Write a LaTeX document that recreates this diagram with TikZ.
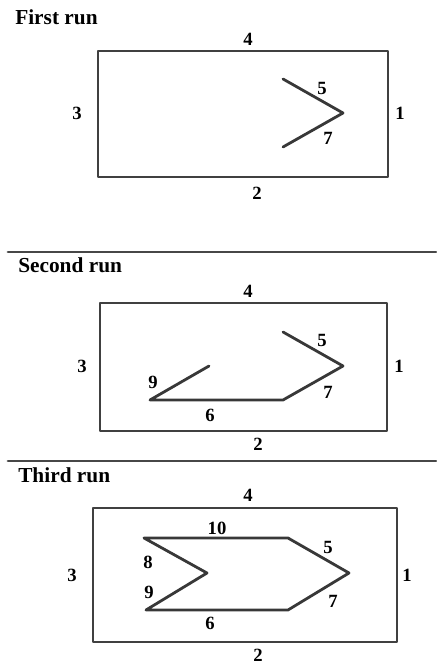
\documentclass[tikz,border=0pt]{standalone}
\usepackage{fontspec}
\setmainfont{Liberation Serif}
\usetikzlibrary{positioning}

\begin{document}
\begin{tikzpicture}[
  x=0.75pt,y=-0.75pt,
  line cap=round,
  line join=round,
  runline/.style={black!78,line width=2.1pt},
  wallline/.style={black!75,line width=2.2pt},
  sepline/.style={black!72,line width=2.1pt},
  runtitle/.style={font=\bfseries\fontsize{16}{18}\selectfont,anchor=west,inner sep=0pt},
  passno/.style={font=\bfseries\fontsize{14}{16}\selectfont,inner sep=0pt}
]
\path[use as bounding box] (0,0) rectangle (436,666);

% ---- first run ----
\node[runtitle] (titleA) at (15,17) {First run};
\draw[wallline] (98,51) rectangle (388,177);
\node[passno] (aR) at (400,113) {1};
\node[passno] (aB) at (257,193) {2};
\node[passno] (aL) at (77,113) {3};
\node[passno] (aT) at (248,39) {4};

\coordinate (a5) at (283,79);
\coordinate (aTip) at (343,113);
\coordinate (a7) at (283,147);
\draw[runline] (a5) -- (aTip) -- (a7);
\node[passno] (aFive) at (322,88) {5};
\node[passno] (aSeven) at (328,138) {7};

% ---- second run ----
\draw[sepline] (8,252) -- (436,252);
\node[runtitle] (titleB) at (18,265) {Second run};
\draw[wallline] (100,303) rectangle (387,431);
\node[passno] (bR) at (399,366) {1};
\node[passno] (bB) at (258,444) {2};
\node[passno] (bL) at (82,366) {3};
\node[passno] (bT) at (248,291) {4};

\coordinate (b5) at (283,332);
\coordinate (bTip) at (343,366);
\coordinate (b7) at (283,400);
\coordinate (b6) at (150,400);
\coordinate (b9) at (209,366);
\draw[runline] (b5) -- (bTip) -- (b7) -- (b6) -- (b9);
\node[passno] (bFive) at (322,340) {5};
\node[passno] (bSeven) at (328,392) {7};
\node[passno] (bSix) at (210,415) {6};
\node[passno] (bNine) at (153,382) {9};

% ---- third run ----
\draw[sepline] (8,461) -- (436,461);
\node[runtitle] (titleC) at (18,475) {Third run};
\draw[wallline] (93,508) rectangle (397,642);
\node[passno] (cR) at (407,575) {1};
\node[passno] (cB) at (258,655) {2};
\node[passno] (cL) at (72,575) {3};
\node[passno] (cT) at (248,495) {4};

\coordinate (cTL) at (144,538);
\coordinate (cTR) at (288,538);
\coordinate (cTip) at (349,573);
\coordinate (cBR) at (288,610);
\coordinate (cBL) at (146,610);
\coordinate (cIn) at (207,573);
\draw[runline] (cTL) -- (cTR) -- (cTip) -- (cBR) -- (cBL) -- (cIn) -- cycle;
\node[passno] (cTen) at (217,528) {10};
\node[passno] (cFive) at (328,547) {5};
\node[passno] (cEight) at (148,562) {8};
\node[passno] (cNine) at (149,592) {9};
\node[passno] (cSeven) at (333,601) {7};
\node[passno] (cSix) at (210,623) {6};
\end{tikzpicture}
\end{document}
